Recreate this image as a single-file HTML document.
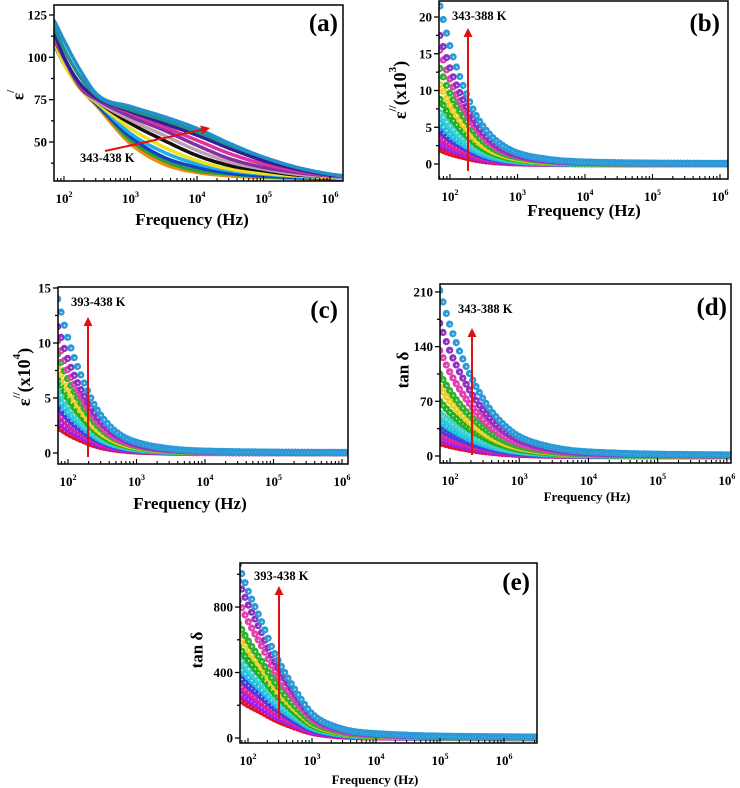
<!DOCTYPE html>
<html><head><meta charset="utf-8">
<style>
html,body{margin:0;padding:0;background:#fff;}
svg{display:block;font-family:"Liberation Serif",serif;font-weight:bold;}
</style></head>
<body>
<svg id="fig" width="740" height="788" viewBox="0 0 740 788" xmlns="http://www.w3.org/2000/svg"></svg>
<script>
// ---- data ----
const aLogF = [1.85,2,2.25,2.5,3,3.5,4,4.5,5,5.5,6,6.2];
const aColors = ['#f08a10','#30a030','#1040d0','#20b0e0','#f0e020','#101010','#c0a0b0','#8030a0','#e030a0','#302090','#209090','#2090d0'];
const aSeries = [
 [112,100,82,71,49,37,32,30,29,28.5,28,27.5],
 [110,98,82,72,51,39,33,31,29.5,29,28.5,28],
 [108,96,82,72,53,41,35,31.5,30,29,28.5,28],
 [110,97,82,73,55,44,37,33,31,29.5,29,28.5],
 [109,96,81,73,58,47,39,34,31.5,30,29,28.5],
 [111,99,82,74,61,51,42,36,33,30.5,29.5,29],
 [112,99,82,74,63,54,45,38,34,31,29.5,29],
 [113,100,82,75,65,57,48,40,35,32,30,29.5],
 [112,100,83,76,67,59,51,43,37,33,30,29.5],
 [115,100,84,76,68,61,54,46,39,34,30.5,30],
 [118,105,88,77,69,63,56,48,41,35,31,30],
 [122,110,92,78,71,65,58,49,41,35,31,30]
];
const mLogF = [1.85,2,2.2,2.4,2.6,2.8,3,3.4,4,6.6];
const mColors = ['#e0102a','#a020f0','#e020a0','#4040e0','#20c0e0','#40d0d0','#20b020','#f0d020','#30b030','#e040b0','#9030c0','#2a9ad8'];
const bSeries = [
 [2.0,1.5,1.0,0.6,0.36,0.22,0.14,0.07,0.03,0.01],
 [2.8,2.1,1.4,0.84,0.5,0.31,0.2,0.09,0.04,0.01],
 [3.6,2.7,1.8,1.1,0.65,0.4,0.25,0.12,0.05,0.01],
 [4.6,3.4,2.3,1.4,0.83,0.5,0.32,0.15,0.06,0.01],
 [5.6,4.1,2.7,1.7,1.0,0.62,0.39,0.18,0.07,0.02],
 [7.0,5.2,3.4,2.1,1.3,0.77,0.49,0.23,0.09,0.02],
 [8.8,6.5,4.3,2.6,1.6,0.97,0.62,0.29,0.11,0.03],
 [10.8,8.0,5.3,3.2,1.9,1.2,0.76,0.36,0.14,0.03],
 [13.0,9.6,6.4,3.9,2.3,1.4,0.91,0.43,0.17,0.04],
 [15.5,11.5,7.6,4.7,2.8,1.7,1.1,0.51,0.2,0.05],
 [17.5,13.0,8.6,5.3,3.2,1.9,1.2,0.58,0.23,0.05],
 [21.5,16.0,10.5,6.4,3.9,2.4,1.5,0.71,0.28,0.06]
];
const cSeries = [
 [2.4,1.8,1.2,0.72,0.43,0.26,0.17,0.08,0.03,0.01],
 [3.0,2.2,1.5,0.9,0.54,0.33,0.21,0.1,0.04,0.01],
 [3.6,2.7,1.8,1.1,0.65,0.4,0.25,0.12,0.05,0.01],
 [4.3,3.2,2.1,1.3,0.77,0.47,0.3,0.14,0.06,0.01],
 [5.0,3.7,2.5,1.5,0.9,0.55,0.35,0.17,0.07,0.02],
 [5.8,4.3,2.8,1.7,1.0,0.64,0.41,0.19,0.08,0.02],
 [6.8,5.0,3.3,2.0,1.2,0.75,0.48,0.22,0.09,0.02],
 [7.8,5.8,3.8,2.3,1.4,0.86,0.55,0.26,0.1,0.02],
 [9.0,6.7,4.4,2.7,1.6,1.0,0.63,0.3,0.12,0.03],
 [10.2,7.5,5.0,3.1,1.8,1.1,0.71,0.34,0.13,0.03],
 [11.5,8.5,5.6,3.5,2.1,1.3,0.8,0.38,0.15,0.03],
 [14.0,10.4,6.9,4.2,2.5,1.5,0.98,0.46,0.18,0.04]
];
const dSeries = [
 [17,13.4,9.7,6.8,4.6,3.1,2.0,1.0,0.4,0.1],
 [22,17.4,12.5,8.8,5.9,4.0,2.6,1.3,0.55,0.1],
 [28,22,16,11.2,7.6,5.0,3.4,1.7,0.7,0.14],
 [35,27.7,20,14,9.5,6.3,4.2,2.1,0.9,0.2],
 [45,35.5,25.6,18,12.2,8.1,5.4,2.7,1.1,0.2],
 [55,43.5,31.4,22,14.9,9.9,6.6,3.3,1.4,0.3],
 [70,55.3,39.9,28,18.9,12.6,8.4,4.2,1.8,0.35],
 [88,69.5,50.2,35.2,23.8,15.8,10.6,5.3,2.2,0.44],
 [105,83,59.9,42,28.4,18.9,12.6,6.3,2.6,0.5],
 [135,106.7,77,54,36.5,24.3,16.2,8.1,3.4,0.7],
 [170,134,97,68,46,30.6,20.4,10.2,4.3,0.85],
 [212,167,121,85,57,38,25,12.7,5.3,1.1]
];
const eSeries = [
 [240,204,163,120,86,58,34,14,6,1],
 [280,238,190,140,101,67,39,17,7,1],
 [330,280,224,165,119,79,46,20,8,2],
 [380,323,258,190,137,91,53,23,10,2],
 [440,374,299,220,158,106,62,26,11,2],
 [500,425,340,250,180,120,70,30,12,2],
 [560,476,381,280,202,134,78,34,14,3],
 [640,544,435,320,230,154,90,38,16,3],
 [700,595,476,350,252,168,98,42,18,4],
 [840,714,571,420,302,202,118,50,21,4],
 [960,816,653,480,346,230,134,58,24,5],
 [1060,901,721,530,382,254,148,64,27,5]
];
const aYTicks = [50,75,100,125];
const bYTicks = [0,5,10,15,20];
const cYTicks = [0,5,10,15];
const dYTicks = [0,70,140,210];
const eYTicks = [0,400,800];
const xDecades = [2,3,4,5,6];

// ---- drawing ----
const NS = 'http://www.w3.org/2000/svg';
const svg = document.getElementById('fig');
function mk(tag, attrs, parent){
  const e = document.createElementNS(NS, tag);
  for (const k in attrs) e.setAttribute(k, attrs[k]);
  (parent||svg).appendChild(e);
  return e;
}
// monotone cubic (Fritsch-Carlson) evaluator over pixel points
function monotone(pts){
  const n = pts.length, d = [], m = [];
  for (let i=0;i<n-1;i++) d.push((pts[i+1][1]-pts[i][1])/(pts[i+1][0]-pts[i][0]));
  m[0]=d[0]; m[n-1]=d[n-2];
  for (let i=1;i<n-1;i++) m[i] = (d[i-1]*d[i] <= 0) ? 0 : (d[i-1]+d[i])/2;
  for (let i=0;i<n-1;i++){
    if (d[i]===0){ m[i]=0; m[i+1]=0; continue; }
    const a=m[i]/d[i], b=m[i+1]/d[i], s=a*a+b*b;
    if (s>9){ const t=3/Math.sqrt(s); m[i]=t*a*d[i]; m[i+1]=t*b*d[i]; }
  }
  return x => {
    let k=0; while (k<n-2 && pts[k+1][0]<x) k++;
    const h=pts[k+1][0]-pts[k][0], t=(x-pts[k][0])/h;
    const t2=t*t, t3=t2*t;
    return (2*t3-3*t2+1)*pts[k][1] + (t3-2*t2+t)*h*m[k] + (-2*t3+3*t2)*pts[k+1][1] + (t3-t2)*h*m[k+1];
  };
}
function drawPanel(p){
  const g = mk('g', {});
  
  
  const [x0,y0,x1,y1] = p.box;
  const sx = v => x0 + (v - p.lx[0]) / (p.lx[1] - p.lx[0]) * (x1 - x0);
  const sy = v => y1 - (v - p.ly[0]) / (p.ly[1] - p.ly[0]) * (y1 - y0);
  const defs = mk('defs', {}, g);
  const cp = mk('clipPath', {id: 'clip-' + p.id}, defs);
  mk('rect', {x:x0, y:y0, width:x1-x0, height:y1-y0}, cp);
  const plot = mk('g', {'clip-path': 'url(#clip-' + p.id + ')'}, g);
  
  
  p.series.forEach((vals, si) => {
    const pts = p.logF.map((lf, i) => [sx(lf), sy(vals[i])]);
    const f = monotone(pts);
    const col = p.colors[si];
    if (p.kind === 'line') {
      const arr = [];
      for (let x = pts[0][0]; x <= pts[pts.length-1][0]; x += 2) arr.push(x.toFixed(1)+','+f(x).toFixed(1));
      const pl = mk('polyline', {points: arr.join(' '), fill:'none', stroke: col, 'stroke-width': 3.5, 'stroke-linejoin':'round'}, plot);
      
      
    } else {
      const sg = mk('g', {}, plot);
      
      
      for (let x = pts[0][0]; x <= Math.min(pts[pts.length-1][0], x1 + 4); x += 3.3) {
        const y = f(x);
        mk('circle', {cx: x.toFixed(1), cy: y.toFixed(1), r: 3.6, fill: col}, sg);
        mk('circle', {cx: (x+0.4).toFixed(1), cy: (y+0.4).toFixed(1), r: 0.9, fill: '#fff', 'fill-opacity': 0.8}, sg);
      }
    }
  });
  const fr = mk('rect', {x:x0, y:y0, width:x1-x0, height:y1-y0, fill:'none', stroke:'#000', 'stroke-width':1.5}, g);
  
  
  const yt = mk('g', {}, g);
  
  
  const step = p.yticks[1] - p.yticks[0];
  for (let v = p.yticks[0] - step; v <= p.yticks[p.yticks.length-1] + step; v += step/2) {
    const y = sy(v);
    if (y < y0 - 0.5 || y > y1 + 0.5) continue;
    const major = p.yticks.includes(v);
    mk('line', {x1:x0, x2:x0 - (major?5:3), y1:y, y2:y, stroke:'#000', 'stroke-width':1.3}, yt);
    if (major) {
      const t = mk('text', {x:x0-7, y:y+4.5, 'text-anchor':'end', 'font-size':13}, yt);
      t.textContent = v;
    }
  }
  const xt = mk('g', {}, g);
  
  
  for (let d = 1; d <= 7; d++) {
    for (let m = 1; m <= 9; m++) {
      const x = sx(d + Math.log10(m));
      if (x < x0 || x > x1) continue;
      mk('line', {x1:x, x2:x, y1:y1, y2:y1 - (m===1?5:3), stroke:'#000', 'stroke-width':1.1}, xt);
      if (m === 1 && xDecades.includes(d)) {
        const t = mk('text', {x:x, y:y1+22, 'text-anchor':'middle', 'font-size':13}, xt);
        t.appendChild(document.createTextNode('10'));
        const s = mk('tspan', {dy:-6, 'font-size':8}, t);
        s.textContent = d;
      }
    }
  }
  const xtl = mk('text', {x:p.xt[0], y:p.xt[1], 'text-anchor':'middle', 'font-size':p.xt[2]}, g);
  xtl.textContent = 'Frequency (Hz)';
  
  
  const ytl = mk('text', {x:p.yt[0], y:p.yt[1], 'text-anchor':'middle', 'font-size':p.yt[2], transform:'rotate(-90 '+p.yt[0]+' '+p.yt[1]+')', 'dominant-baseline':'central'}, g);
  
  
  p.ytitle(ytl);
  const pl = mk('text', {x:p.lab[0], y:p.lab[1], 'text-anchor':'end', 'font-size':25}, g);
  pl.textContent = '(' + p.id + ')';
  
  
  const at = mk('text', {x:p.ann[0], y:p.ann[1], 'font-size':12.5}, g);
  at.textContent = p.annText;
  
  
  const ar = mk('g', {}, g);
  
  
  const [ax1, ay1, ax2, ay2] = p.arrow;
  const ang = Math.atan2(ay2-ay1, ax2-ax1);
  const bx = ax2 - 9*Math.cos(ang), by = ay2 - 9*Math.sin(ang);
  mk('line', {x1:ax1, y1:ay1, x2:bx, y2:by, stroke:'#e01010', 'stroke-width':2}, ar);
  const px = -Math.sin(ang)*4.5, py = Math.cos(ang)*4.5;
  mk('polygon', {points: ax2+','+ay2+' '+(bx+px)+','+(by+py)+' '+(bx-px)+','+(by-py), fill:'#e01010'}, ar);
}
function epsTitle(exp){
  return t => {
    t.appendChild(document.createTextNode('ε'));
    const s = mk('tspan', {dy:-7, 'font-size':11}, t); s.textContent = '//';
    const s2 = mk('tspan', {dy:7}, t); s2.textContent = '(x10';
    const s3 = mk('tspan', {dy:-7, 'font-size':11}, t); s3.textContent = exp;
    const s4 = mk('tspan', {dy:7}, t); s4.textContent = ')';
  };
}
drawPanel({id:'a', box:[54,5,343,181], lx:[1.85,6.195], ly:[26.96,130.9], yticks:aYTicks,
  logF:aLogF, series:aSeries, colors:aColors, kind:'line',
  xt:[192,225,17], yt:[18,95,17], ytitle: t => { t.appendChild(document.createTextNode('ε')); const s = mk('tspan',{dy:-7,'font-size':11},t); s.textContent='/'; },
  lab:[338,31], ann:[80,162], annText:'343-438 K', arrow:[105,151,210,128]});
drawPanel({id:'b', box:[439,1,728,179], lx:[1.837,6.119], ly:[-2.04,22.18], yticks:bYTicks,
  logF:mLogF, series:bSeries, colors:mColors, kind:'marker',
  xt:[584,216,17], yt:[400,90,18], ytitle: epsTitle('3'),
  lab:[720,31], ann:[452,20], annText:'343-388 K', arrow:[468,171,468,28]});
drawPanel({id:'c', box:[58,287,348,464], lx:[1.854,6.088], ly:[-1,15.09], yticks:cYTicks,
  logF:mLogF, series:cSeries, colors:mColors, kind:'marker',
  xt:[190,509,17], yt:[24,377,18], ytitle: epsTitle('4'),
  lab:[338,318], ann:[71,306], annText:'393-438 K', arrow:[88,457,88,317]});
drawPanel({id:'d', box:[440,284,731,463], lx:[1.855,6.06], ly:[-8.96,220.2], yticks:dYTicks,
  logF:mLogF, series:dSeries, colors:mColors, kind:'marker',
  xt:[587,501,13], yt:[403,370,17], ytitle: t => { t.textContent = 'tan δ'; },
  lab:[727,315], ann:[458,313], annText:'343-388 K', arrow:[472,455,472,328]});
drawPanel({id:'e', box:[240,563,537,743], lx:[1.875,6.516], ly:[-30.5,1069], yticks:eYTicks,
  logF:mLogF, series:eSeries, colors:mColors, kind:'marker',
  xt:[375,784,13], yt:[197,650,17], ytitle: t => { t.textContent = 'tan δ'; },
  lab:[530,590], ann:[254,580], annText:'393-438 K', arrow:[279,718,279,586]});
</script>
</body></html>
